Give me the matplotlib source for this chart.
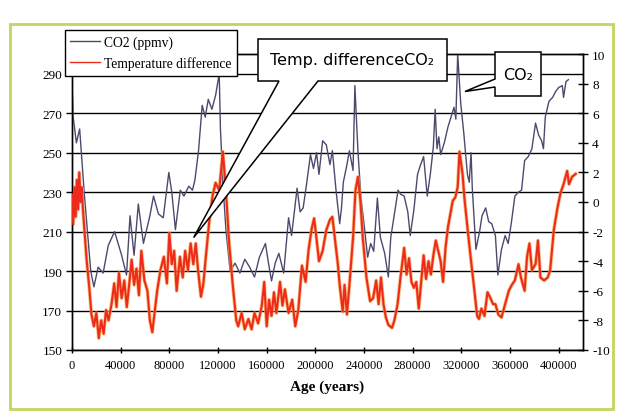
import matplotlib.pyplot as plt
from matplotlib.patches import Polygon, Rectangle

plt.rcParams['axes.unicode_minus'] = False

# Vostok-style record: age in thousands of years
co2_age = [0, 1, 3.6, 6.3, 7.7, 10, 12.7, 15.4, 18, 21.5, 25.6, 29.8, 35, 40.8, 44.8,
           47.7, 51, 54.5, 58.7, 64, 67, 71, 75, 79.6, 82, 85, 89, 92, 96, 99, 101,
           104, 107, 109.5, 112, 115, 118, 121, 122, 124, 126.5, 130, 134, 138, 142,
           146, 150, 154, 159, 161.5, 164, 167, 170, 174, 178, 180.5, 185, 187.5, 190,
           193, 196, 198.5, 201, 203, 206, 209, 212, 214, 217, 220, 221.5, 223, 226,
           228, 231, 232.5, 235, 237.5, 240, 243, 245.5, 248, 251, 253.5, 257, 260,
           262, 265, 268, 270, 273, 276, 278, 281, 284, 286, 289, 292, 294.5, 297,
           298.5, 300, 301.5, 303, 306, 309, 311.5, 314, 315.5, 317, 318.5, 319.5,
           322, 325, 326.5, 328, 329, 332, 335, 337, 340, 342.5, 345, 348, 350, 353,
           356, 358.5, 361, 364, 367, 369.5, 372, 375, 378, 381, 383.5, 386, 387.5,
           389, 392, 395, 397.5, 400, 403, 404, 406, 408]
co2_ppmv = [285, 268, 255, 262, 250, 230, 210, 190, 182, 192, 189, 203, 210, 198, 188,
            218, 198, 224, 204, 218, 228, 219, 217, 240, 230, 211, 231, 228, 233, 231, 236,
            251, 274, 268, 277, 272, 279, 290, 262, 235, 211, 190, 194, 189, 196,
            192, 187, 197, 204, 194, 185, 194, 199, 189, 217, 208, 232, 220, 222,
            235, 249, 242, 250, 239, 256, 254, 244, 251, 231, 214, 222, 235, 244,
            251, 241, 284, 251, 227, 214, 197, 204, 200, 227, 207, 199, 187,
            207, 219, 231, 229, 228, 220, 208, 221, 239, 243, 248, 228, 239, 253,
            272, 252, 258, 249, 255, 263, 268, 273, 267, 300, 285, 275,
            260, 239, 235, 250, 232, 201, 210, 218, 222, 215, 214, 208, 188, 201,
            208, 204, 214, 228, 230, 231, 246, 248, 252, 265, 259, 256, 252,
            268, 276, 278, 281, 283, 284, 278, 286, 287]

temp_age = [0, 1, 2, 3, 4, 5, 6, 7, 8, 9, 10, 12, 14, 16, 18, 20, 22, 24, 26, 28, 30,
            32.5, 34.7, 36.6, 38.6, 40.8, 43, 45, 47, 49, 51, 53, 55, 57, 59.5, 62, 64,
            66, 68, 70, 72.7, 75.5, 78, 80, 82, 84, 86, 88.7, 91, 93, 95.3, 97.5, 99.7,
            101.7, 103.6, 106, 108, 110, 112.7, 115.5, 118, 121, 124, 126.5, 129, 132,
            135, 136.6, 139.4, 142, 145, 147.6, 150, 153, 156, 158, 160, 162, 164, 166,
            168, 171, 173, 175, 178, 181, 183.5, 186, 189, 192, 194.5, 197, 199, 201,
            203, 206, 209, 212, 214, 216, 218.5, 220, 222.5, 224, 226, 228, 231, 233,
            235, 237, 239, 242, 245, 247.5, 250, 252, 254, 256, 258, 260, 263, 265,
            267.6, 270, 273, 275, 277, 279, 281, 283, 285, 287, 289, 291, 293, 295, 297,
            299, 301, 303, 305, 307, 309, 311, 313, 315, 317, 318.5, 321, 322.5, 325,
            328, 330.5, 333, 334.5, 336.5, 339, 341.5, 344, 346, 348, 350.4, 353, 356,
            359, 361.5, 364, 367, 369, 372, 374, 376, 378, 381, 383, 385, 388, 391, 393,
            396, 399, 401.5, 404, 407, 408.5, 411, 414]
temp_diff = [0.5, -1.5, 1.0, -1.0, 1.5, -0.5, 2.0, 0.0, 1.0, -0.5, -1.6, -3.9, -5.6, -7.6,
             -8.4, -7.5, -9.2, -8.0, -8.9, -7.3, -8.0, -6.9, -5.5, -7.1, -4.8, -6.5, -5.3,
             -7.1, -5.6, -3.9, -5.6, -4.5, -6.3, -3.3, -5.3, -6.0, -8.0, -8.8, -7.4, -6.0,
             -4.6, -3.7, -5.5, -2.1, -4.2, -3.3, -6.0, -3.7, -5.1, -3.3, -4.6, -2.8, -4.2,
             -2.8, -4.6, -6.4, -5.5, -3.7, -1.4, 0.4, 1.3, 0.8, 3.4, 0.8, -2.6, -5.5,
             -8.0, -8.4, -7.5, -8.6, -7.9, -8.6, -7.5, -8.2, -7.0, -5.4, -8.4, -6.6, -7.7,
             -6.1, -7.5, -5.4, -7.0, -5.9, -7.5, -6.6, -8.4, -7.3, -4.3, -5.4, -3.2, -1.8,
             -1.1, -2.5, -4.0, -3.3, -1.9, -1.2, -1.0, -2.4, -4.2, -5.6, -7.4, -5.6, -7.6,
             -5.6, -2.4, 0.8, 1.7, 0.1, -2.4, -5.1, -6.7, -6.5, -5.3, -6.9, -5.1, -6.9,
             -7.8, -8.3, -8.5, -8.0, -6.9, -5.1, -3.1, -4.9, -3.8, -5.4, -5.8, -5.4, -7.2,
             -5.4, -3.6, -5.2, -4.0, -4.9, -3.6, -2.6, -3.3, -4.0, -5.4, -3.1, -1.7, -0.8,
             0.1, 0.3, 1.0, 3.4, 1.9, 0.3, -1.7, -4.0, -5.8, -7.7, -7.9, -7.2, -7.7, -6.1,
             -6.5, -6.9, -6.9, -7.6, -7.8, -6.9, -6.0, -5.6, -5.3, -4.2, -5.1, -6.0, -3.7,
             -2.8, -4.6, -4.2, -2.6, -5.1, -5.3, -5.1, -4.6, -1.9, -0.4, 0.6, 1.2, 2.1,
             1.2, 1.7, 1.9]

co2_years = [a * 1000 for a in co2_age]
temp_years = [a * 1000 for a in temp_age]

x_ticks = list(range(0, 400001, 40000))
left_ticks = list(range(150, 291, 20))
right_ticks = list(range(-10, 11, 2))

W, H = 627, 414
fig = plt.figure(figsize=(W / 100, H / 100), dpi=100)


def fpos(px, py):
    return px / W, 1 - py / H


# outer frame
fig.add_artist(Rectangle(fpos(10, 410), 603 / W, 385 / H, transform=fig.transFigure,
                         fill=False, edgecolor='#c6d35c', linewidth=2))

ax = fig.add_axes([72 / W, 1 - 351 / H, 511 / W, 296 / H])
ax2 = ax.twinx()

serif = 'Liberation Serif'

ax.plot(co2_years, co2_ppmv, color='#4b4a6e', linewidth=1.0, label='CO2 (ppmv)', zorder=3)
ax2.plot(temp_years, temp_diff, color='#f4a244', linewidth=2.6, alpha=0.7, zorder=2)
ax2.plot(temp_years, temp_diff, color='#ee2a1c', linewidth=1.5, zorder=3)

ax.set_xlim(0, 420000)
ax.set_ylim(150, 300)
ax2.set_ylim(-10, 10)

ax.set_xticks(x_ticks)
ax.set_xticklabels([str(v) for v in x_ticks], fontfamily=serif, fontsize=9)
ax.set_yticks(left_ticks)
ax.set_yticklabels([str(v) for v in left_ticks], fontfamily=serif, fontsize=9.5)
ax2.set_yticks(right_ticks)
ax2.set_yticklabels([str(v) for v in right_ticks], fontfamily=serif, fontsize=9.5)

ax.tick_params(axis='x', direction='inout', length=5, width=1, pad=4)
ax.tick_params(axis='y', direction='out', length=4, width=1, pad=3)
ax2.tick_params(axis='y', direction='inout', length=7, width=1, pad=3)

ax.grid(axis='y', color='black', linewidth=1)
ax.set_axisbelow(True)
for a in (ax, ax2):
    for s in a.spines.values():
        s.set_linewidth(1)
        s.set_color('black')

ax.set_xlabel('Age (years)', fontfamily=serif, fontsize=11, fontweight='bold', labelpad=6)

# legend sits on the upper edge of the plot area
leg_handles = [plt.Line2D([], [], color='#4b4a6e', linewidth=1),
               plt.Line2D([], [], color='#ee2a1c', linewidth=1)]
fig.legend(leg_handles, ['CO2 (ppmv)', 'Temperature difference'],
           loc='upper left', bbox_to_anchor=fpos(65, 31), bbox_transform=fig.transFigure,
           prop={'family': serif, 'size': 9.8}, fancybox=False, edgecolor='black',
           framealpha=1, handlelength=2.2, handletextpad=0.3, labelspacing=0.55,
           borderpad=0.4, borderaxespad=0)


def callout(box, tip, gap, text, side='bottom'):
    x0, y0, x1, y1 = box
    if side == 'bottom':
        pts = [(x0, y0), (x1, y0), (x1, y1), (gap[1], y1), None, (gap[0], y1), (x0, y1)]
    else:
        pts = [(x0, y0), (x1, y0), (x1, y1), (x0, y1), (x0, gap[1]), None, (x0, gap[0])]
    tip_f = fig.transFigure.inverted().transform(ax.transData.transform(tip))
    verts = [tuple(tip_f) if p is None else fpos(*p) for p in pts]
    fig.add_artist(Polygon(verts, closed=True, transform=fig.transFigure,
                           facecolor='white', edgecolor='black', linewidth=1.1, zorder=6))
    cx, cy = fpos((x0 + x1) / 2, (y0 + y1) / 2)
    fig.text(cx, cy, text, ha='center', va='center', fontsize=11.5,
             fontfamily='DejaVu Sans', zorder=7)


callout((258, 40, 447, 82), (100000, 207), (279, 318), 'Temp. differenceCO₂')
callout((495, 53, 541, 97), (323000, 281), (80, 88), 'CO₂', side='left')

fig.savefig('out.png', dpi=100, facecolor='white')
